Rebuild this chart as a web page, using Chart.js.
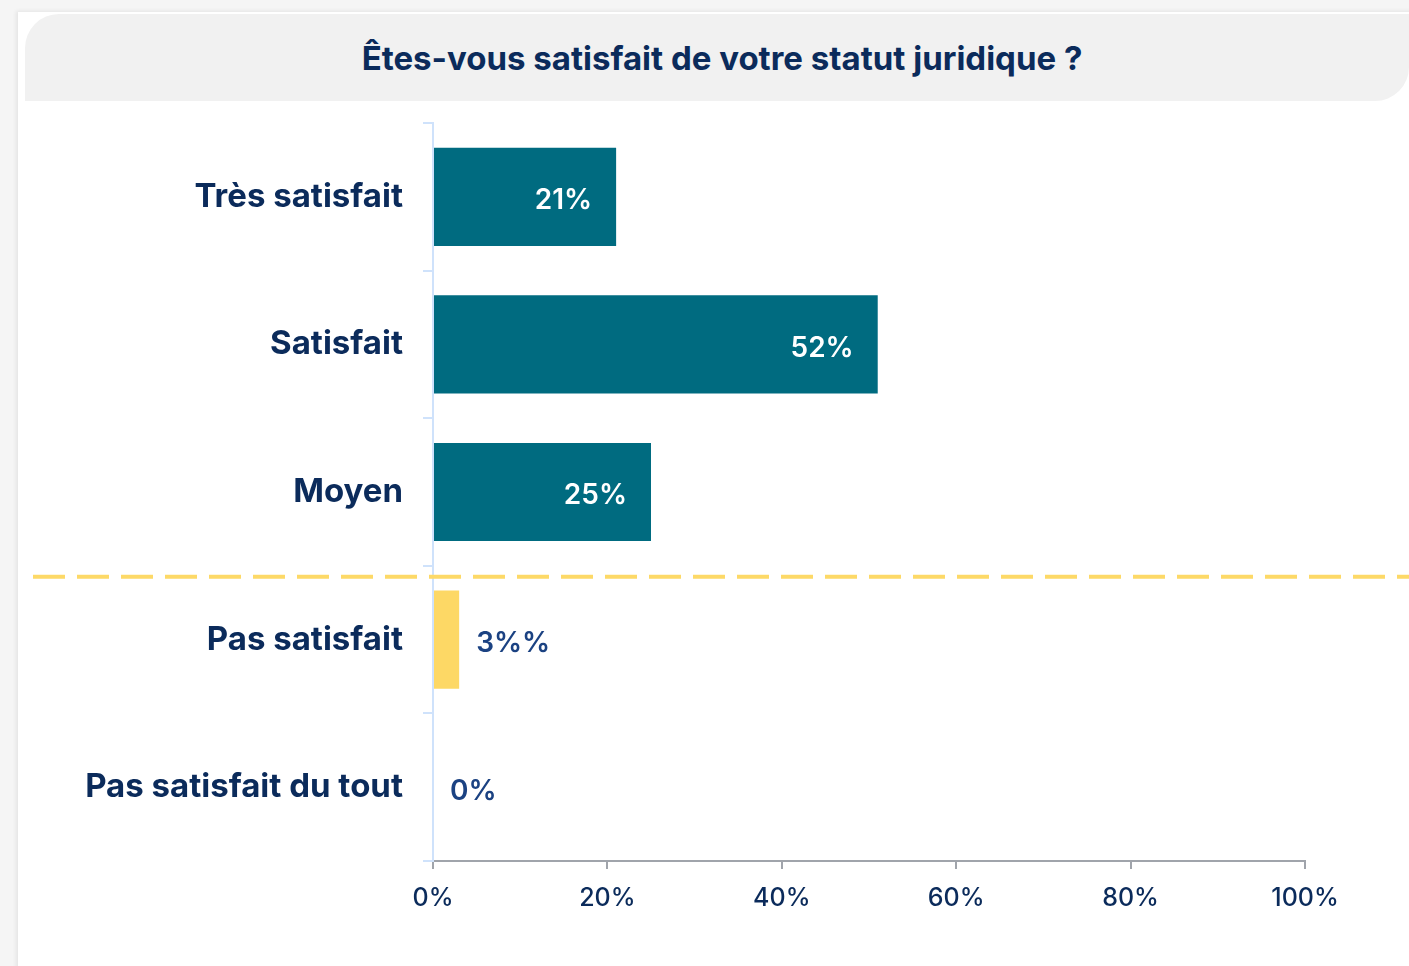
<!DOCTYPE html>
<html>
<head>
<meta charset="utf-8">
<script src="https://cdn.jsdelivr.net/npm/chart.js@4"></script>
<style>
  html, body { margin: 0; padding: 0; }
  body { width: 1409px; height: 966px; background: #f5f5f5; position: relative; overflow: hidden; font-family: Inter, "Noto Sans", sans-serif; }
  .card { position: absolute; left: 18px; top: 12px; width: 1400px; height: 960px; background: #fff; box-shadow: -2px -1px 4px rgba(0,0,0,0.07); }
  .head { position: absolute; left: 25px; top: 14px; width: 1384px; height: 87px; background: #f1f1f1; border-radius: 34px 0 34px 0;
          display: flex; align-items: center; justify-content: center; color: #0b2b5b; font-weight: 700; font-size: 33px; padding-left: 10px; box-sizing: border-box; }
  #wrap { position: absolute; left: 18px; top: 101px; width: 1391px; height: 865px; }
</style>
</head>
<body>
<div class="card"></div>
<div class="head">Êtes-vous satisfait de votre statut juridique ?</div>
<div id="wrap"><canvas id="graph"></canvas></div>
<script>
const categories = ['Très satisfait', 'Satisfait', 'Moyen', 'Pas satisfait', 'Pas satisfait du tout']
const values = [21, 51, 25, 3, 0]
const valueLabels = ['21%', '52%', '25%', '3%%', '0%']
const barColors = ['#006b80', '#006b80', '#006b80', '#fdd865', '#fdd865']
const xTicks = [0, 20, 40, 60, 80, 100]

const navy = '#0b2b5b'

// value labels: inside the bar when there is room, otherwise just after it
const barLabels = {
    id: 'barLabels',
    afterDatasetsDraw(chart) {
        let ctx = chart.ctx
        let meta = chart.getDatasetMeta(0)
        ctx.save()
        ctx.font = '600 28px Inter, "Noto Sans", sans-serif'
        ctx.textBaseline = 'middle'
        meta.data.forEach((bar, i) => {
            let w = bar.x - bar.base
            if (w > 100) {
                ctx.fillStyle = '#ffffff'
                ctx.textAlign = 'right'
                ctx.fillText(valueLabels[i], bar.x - 24, bar.y + 4)
            } else {
                ctx.fillStyle = '#1b4282'
                ctx.textAlign = 'left'
                ctx.fillText(valueLabels[i], bar.x + 17, bar.y + 4)
            }
        })
        ctx.restore()
    }
}

// yellow dashed separator between the positive and negative answers
const separator = {
    id: 'separator',
    afterDraw(chart) {
        let y = chart.scales.y
        let p2 = y.getPixelForValue(2)
        let p3 = y.getPixelForValue(3)
        let yy = p2 + (p3 - p2) * 0.575
        let ctx = chart.ctx
        ctx.save()
        ctx.strokeStyle = '#fdd967'
        ctx.lineWidth = 4
        ctx.setLineDash([32, 12])
        ctx.beginPath()
        ctx.moveTo(15, yy)
        ctx.lineTo(chart.width, yy)
        ctx.stroke()
        ctx.restore()
    }
}

let graph = document.getElementById('graph').getContext('2d')

new Chart(graph, {
    type: 'bar',
    data: {
        labels: categories,
        datasets: [{
            data: values,
            backgroundColor: barColors,
            barPercentage: 0.665,
            categoryPercentage: 1,
        }]
    },
    options: {
        indexAxis: 'y',
        responsive: true,
        maintainAspectRatio: false,
        animation: false,
        layout: { padding: { top: 22, right: 104, left: 0, bottom: 0 } },
        plugins: { legend: { display: false }, tooltip: { enabled: false } },
        scales: {
            x: {
                min: 0,
                max: 100,
                afterBuildTicks(scale) { scale.ticks = xTicks.map(v => ({ value: v })) },
                afterFit(scale) { scale.height = 105; scale.paddingLeft = 0; scale.paddingRight = 0 },
                grid: { drawOnChartArea: false, tickLength: 8, color: '#a0a4ab', lineWidth: 2 },
                border: { color: '#a0a4ab', width: 2 },
                ticks: {
                    callback: v => v + '%',
                    color: navy,
                    padding: 14,
                    font: { family: 'Inter, "Noto Sans", sans-serif', size: 25, weight: '500' }
                }
            },
            y: {
                afterFit(scale) { scale.width = 415; scale.paddingTop = 0; scale.paddingBottom = 0 },
                grid: { drawOnChartArea: false, tickLength: 10, color: '#cfe2fb', lineWidth: 2 },
                border: { color: '#cfe2fb', width: 2 },
                ticks: {
                    color: navy,
                    padding: 20,
                    font: { family: 'Inter, "Noto Sans", sans-serif', size: 33, weight: '700' }
                }
            }
        }
    },
    plugins: [barLabels, separator]
})
</script>
</body>
</html>
